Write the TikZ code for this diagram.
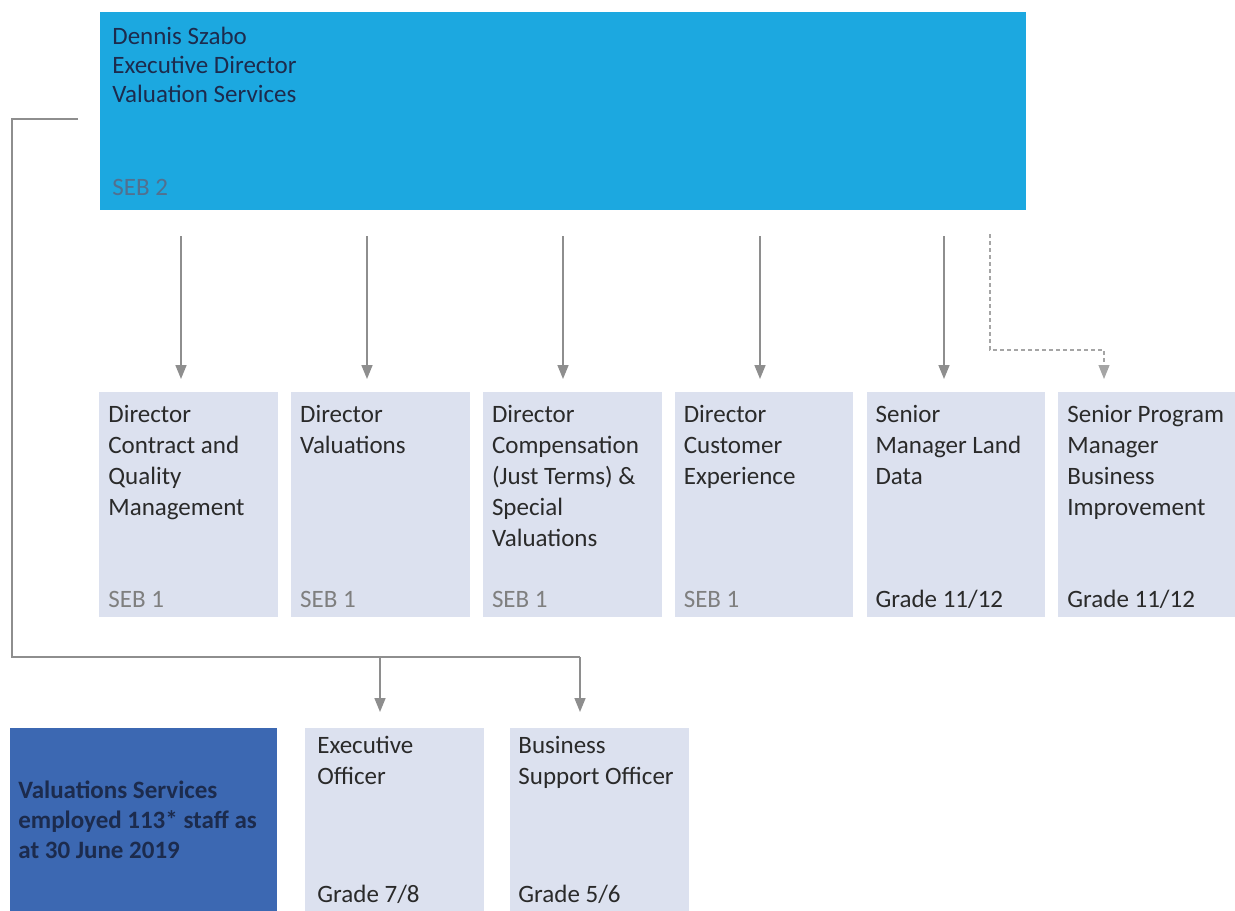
\documentclass[tikz,border=0pt]{standalone}
\usepackage{fontspec}
\setmainfont{Carlito}
\usepackage{xcolor}
\usetikzlibrary{arrows.meta,positioning}
\definecolor{vsblue}{HTML}{1CA8E0}
\definecolor{vsnavy}{HTML}{3C68B2}
\definecolor{vslav}{HTML}{DCE1EF}
\definecolor{vsline}{HTML}{8E8E8E}
\definecolor{vstext}{HTML}{2A2A2A}
\definecolor{vsdark}{HTML}{1C2B4D}
\definecolor{vsseb}{HTML}{7F7F7F}
\definecolor{vssebtop}{HTML}{52708F}

\begin{document}
\begin{tikzpicture}[x=0.5pt,y=-0.5pt,
    box/.style={fill=vslav, inner sep=0pt, minimum width=89.25pt, minimum height=112.5pt},
    title/.style={anchor=north west, inner sep=0pt, align=left, text=vstext,
      font=\fontsize{12.5}{15.5}\selectfont},
    grade/.style={anchor=base west, inner sep=0pt, font=\fontsize{12.5}{15.5}\selectfont},
    link/.style={draw=vsline, line width=0.8pt, -{Triangle[length=7pt,width=5.5pt]}, shorten >=6.5pt},
  ]
  \useasboundingbox (0,0) rectangle (1235,910);

  % Executive Director (top)
  \node[fill=vsblue, inner sep=0pt, minimum width=463pt, minimum height=99pt, anchor=north west]
    (ed) at (100,12) {};
  \node[title, text=vsdark, font=\fontsize{12.5}{14.5}\selectfont] (ed-t)
    at ([xshift=6pt,yshift=-5.85pt]ed.north west)
    {\strut Dennis Szabo\\Executive Director\\Valuation Services};
  \node[grade, text=vssebtop] (ed-g) at ([xshift=6pt,yshift=7.5pt]ed.south west) {SEB 2};

  % Second row: directors and senior managers
  \node[box, anchor=north west] (dcq) at (99,392) {};
  \node[box, right=6.25pt of dcq] (dv) {};
  \node[box, right=6.25pt of dv] (dcs) {};
  \node[box, right=6.25pt of dcs] (dce) {};
  \node[box, right=6.25pt of dce] (sml) {};
  \node[box, right=6.25pt of sml] (spm) {};

  \foreach \b/\t in {dcq/{Director\\Contract and\\Quality\\Management},
                     dv/{Director\\Valuations},
                     dcs/{Director\\Compensation\\(Just Terms) \&\\Special\\Valuations},
                     dce/{Director\\Customer\\Experience},
                     sml/{Senior\\Manager Land\\Data},
                     spm/{Senior Program\\Manager\\Business\\Improvement}}
    \node[title] (\b-t) at ([xshift=4.5pt,yshift=-4.15pt]\b.north west) {\strut\t};

  \foreach \b/\g/\c in {dcq/{SEB 1}/vsseb, dv/{SEB 1}/vsseb, dcs/{SEB 1}/vsseb,
                        dce/{SEB 1}/vsseb, sml/{Grade 11/12}/vstext, spm/{Grade 11/12}/vstext}
    \node[grade, text=\c] (\b-g) at ([xshift=4.5pt,yshift=5pt]\b.south west) {\g};

  % Reporting lines from the top box
  \foreach \b/\x in {dcq/181, dv/367, dcs/563, dce/760, sml/944} {
    \coordinate (\b-in) at (\x,236);
    \draw[link] (\b-in) -- (\b-in |- \b.north);
  }
  \coordinate (spm-in) at (990,234);
  \coordinate (spm-bend) at (1104,350);
  \draw[link, draw=vsline!80, line width=0.6pt, dash pattern=on 2pt off 1.5pt]
    (spm-in) |- (spm-bend) -- (spm-bend |- spm.north);

  % Bottom row
  \node[fill=vsnavy, inner sep=0pt, minimum width=133.5pt, minimum height=93pt, anchor=north west]
    (vs) at (10,728) {};
  \node[title, text=vsdark, font=\bfseries\fontsize{12.5}{15}\selectfont] (vs-t)
    at ([xshift=4pt,yshift=-24.5pt]vs.north west)
    {\strut Valuations Services\\employed 113* staff as\\at 30 June 2019};

  \node[box, minimum height=93pt, anchor=north west] (eo) at (305,728) {};
  \node[box, minimum height=93pt, anchor=north west] (bso) at (510,728) {};
  \node[title] (eo-t) at ([xshift=6pt,yshift=-1.7pt]eo.north west) {\strut Executive\\Officer};
  \node[title] (bso-t) at ([xshift=4pt,yshift=-1.7pt]bso.north west) {\strut Business\\Support Officer};
  \node[grade, text=vstext] (eo-g) at ([xshift=6pt,yshift=-87pt]eo.north west) {Grade 7/8};
  \node[grade, text=vstext] (bso-g) at ([xshift=4pt,yshift=-87pt]bso.north west) {Grade 5/6};

  % Side line to the support officers
  \coordinate (ed-out) at (78,119);
  \coordinate (corner) at (12,657);
  \coordinate (eo-in) at (380,657);
  \coordinate (bso-in) at (580,657);
  \draw[draw=vsline, line width=0.8pt] (ed-out) -| (corner) -- (bso-in);
  \draw[link, shorten >=8pt] (eo-in) -- (eo-in |- eo.north);
  \draw[link, shorten >=8pt] (bso-in) -- (bso-in |- bso.north);
\end{tikzpicture}
\end{document}
